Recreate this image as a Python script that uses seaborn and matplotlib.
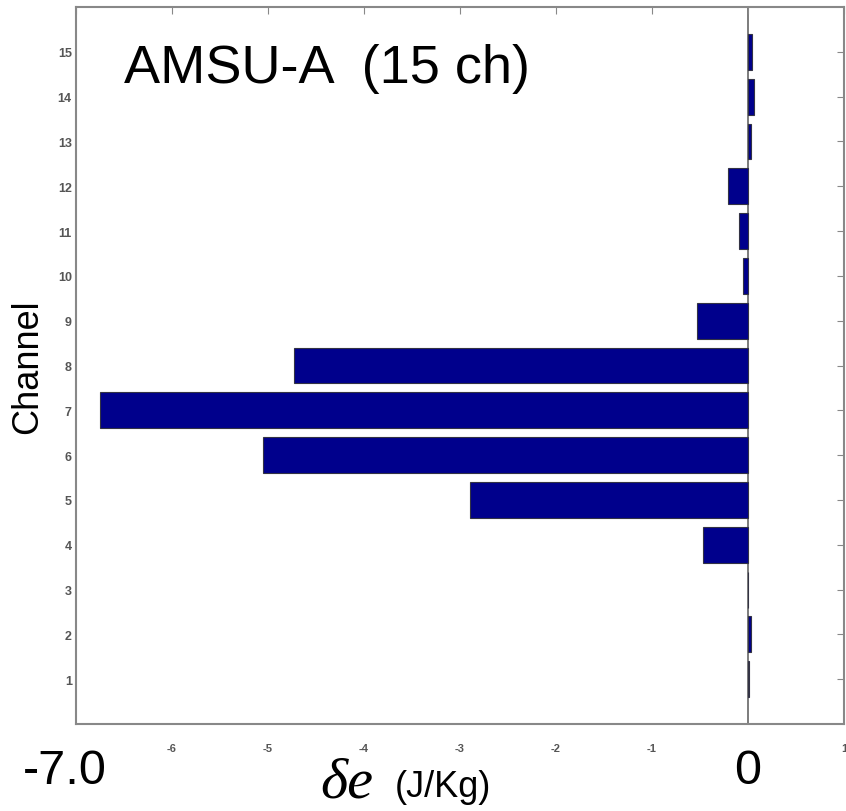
import pandas as pd
import matplotlib
matplotlib.use("Agg")
import matplotlib.pyplot as plt
import seaborn as sns

# channel number and energy error reduction (J/Kg)
channels = list(range(1, 16))
delta_e = [0.01, 0.03, 0.0, -0.47, -2.9, -5.05, -6.75, -4.73,
           -0.53, -0.05, -0.09, -0.21, 0.03, 0.06, 0.04]
x_ticks = [-7, -6, -5, -4, -3, -2, -1, 0, 1]
x_tick_labels = ["", "-6", "-5", "-4", "-3", "-2", "-1", "", "1"]

df = pd.DataFrame({"Channel": channels, "de": delta_e})

sns.set_style("white")
plt.rcParams["font.family"] = ["Liberation Sans", "DejaVu Sans"]
plt.rcParams["text.color"] = "black"
plt.rcParams["axes.labelcolor"] = "black"

fig = plt.figure(figsize=(8.46, 8.12), dpi=100)
ax = fig.add_axes([0.0898, 0.1071, 0.9078, 0.883])

sns.barplot(data=df, x="de", y="Channel", orient="h", native_scale=True,
            color="#00008c", saturation=1, width=0.8,
            edgecolor="#333344", linewidth=0.8, ax=ax)

# zero line
ax.axvline(0, color="#666666", linewidth=1.2, zorder=0.5)

ax.set_xlim(-7, 1)
ax.set_ylim(0, 16)
ax.set_xticks(x_ticks)
ax.set_xticklabels(x_tick_labels)
ax.set_yticks(channels)
ax.set_yticklabels([str(c) for c in channels])
ax.tick_params(direction="in", length=5, width=0.8, color="#888888",
               labelcolor="#555555", top=True, right=True)
ax.tick_params(axis="x", labelsize=8, pad=14)
ax.tick_params(axis="y", labelsize=9, pad=3)
for lbl in ax.get_xticklabels() + ax.get_yticklabels():
    lbl.set_fontweight("bold")
for s in ax.spines.values():
    s.set_color("#888888")
    s.set_linewidth(1.5)

ax.set_xlabel("")
ax.set_ylabel("Channel", fontsize=26, labelpad=9)

ax.text(0.063, 0.95, "AMSU-A  (15 ch)", transform=ax.transAxes,
        fontsize=39, ha="left", va="top")

fig.text(0.027, 0.05, "-7.0", fontsize=35, ha="left", va="center")
fig.text(0.884, 0.05, "0", fontsize=35, ha="center", va="center")
fig.text(0.378, 0.035, "δe", fontsize=42, ha="left", va="center",
         family="Liberation Serif", style="italic")
fig.text(0.467, 0.03, "(J/Kg)", fontsize=26, ha="left", va="center")

fig.savefig("out.png", dpi=100)
